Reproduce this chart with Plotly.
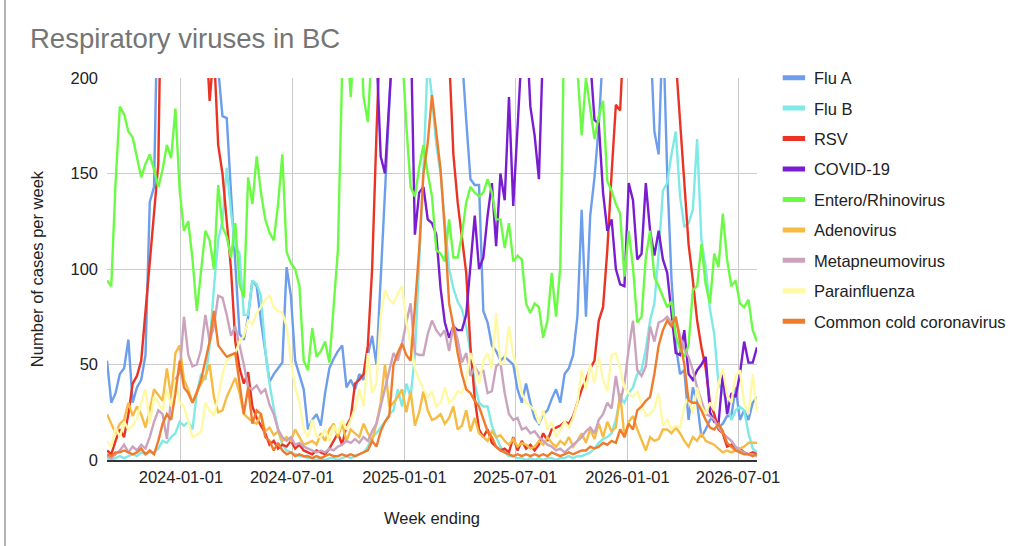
import pandas as pd
import plotly.graph_objects as go

# weekly counts, one value per week ending (Saturday)
weeks = pd.date_range("2023-09-02", periods=153, freq="7D")

flu_a = [52, 30, 35, 45, 48, 63, 30, 38, 42, 55,
         135, 143, 260, 320, 380, 430, 470, 490, 470, 430,
         390, 340, 300, 270, 245, 225, 205, 180, 179, 140,
         100, 66, 63, 75, 94, 91, 73, 56, 41, 45,
         48, 51, 101, 86, 52, 45, 37, 16, 21, 24,
         18, 35, 48, 53, 57, 60, 38, 42, 37, 45,
         42, 55, 65, 50, 92, 140, 185, 240, 300, 360,
         420, 460, 480, 470, 430, 390, 350, 320, 300, 280,
         260, 245, 230, 212, 178, 147, 144, 144, 78, 72,
         60, 57, 52, 54, 52, 50, 37, 30, 40, 30,
         22, 19, 24, 26, 32, 37, 30, 45, 48, 55,
         75, 131, 75, 128, 148, 175, 215, 290, 340, 380,
         400, 390, 360, 320, 290, 260, 240, 225, 172, 160,
         230, 150, 95, 60, 45, 47, 21, 38, 30, 12,
         16, 21, 23, 17, 19, 23, 23, 38, 21, 26,
         21, 30, 33]

flu_b = [1, 0, 1, 2, 1, 2, 3, 2, 4, 3,
         4, 4, 6, 10, 9, 12, 14, 20, 18, 20,
         16, 35, 45, 42, 60, 90, 115, 125, 153, 130,
         112, 108, 76, 76, 94, 92, 86, 58, 40, 27,
         16, 8, 5, 4, 3, 2, 2, 1, 1, 0,
         1, 0, 1, 1, 0, 1, 2, 1, 2, 3,
         4, 7, 12, 14, 17, 20, 24, 26, 37, 28,
         40, 33, 55, 100, 152, 210, 190, 165, 150, 125,
         100, 90, 83, 79, 70, 56, 40, 30, 28, 28,
         18, 12, 7, 4, 2, 2, 1, 1, 0, 1,
         0, 1, 0, 1, 1, 0, 1, 1, 2, 1,
         2, 2, 3, 4, 6, 9, 11, 12, 14, 21,
         33, 30, 35, 38, 45, 47, 58, 73, 82, 108,
         141, 145, 160, 172, 138, 122, 124, 131, 168, 115,
         101, 79, 66, 40, 36, 30, 21, 26, 28, 26,
         14, 6, 4]

rsv = [5, 3, 10, 16, 12, 24, 40, 44, 52, 78,
       105, 130, 155, 300, 420, 520, 600, 640, 620, 560,
       480, 400, 300, 230, 188, 215, 165, 150, 125, 100,
       62, 48, 40, 46, 28, 22, 18, 14, 8, 10,
       6, 8, 7, 10, 6, 8, 5, 4, 3, 5,
       4, 3, 6, 10, 14, 8, 18, 22, 40, 42,
       45, 60, 100, 170, 250, 330, 400, 470, 520, 540,
       530, 490, 440, 390, 340, 300, 270, 250, 235, 222,
       212, 160, 135, 118, 98, 59, 32, 16, 12, 16,
       9, 7, 5, 6, 4, 12, 5, 10, 6, 8,
       5, 8, 14, 10, 16, 17, 18, 20, 19, 23,
       30, 37, 42, 48, 52, 73, 80, 110, 150, 186,
       183, 240, 300, 360, 420, 460, 470, 450, 410, 360,
       310, 270, 240, 210, 178, 150, 113, 94, 73, 59,
       48, 30, 24, 16, 14, 7, 8, 5, 6, 4,
       3, 4, 3]

covid = [290, 320, 345, 360, 385, 410, 440, 455, 470, 480,
         470, 455, 440, 425, 410, 390, 380, 360, 345, 330,
         315, 300, 290, 280, 275, 268, 260, 255, 250, 245,
         240, 238, 235, 232, 228, 226, 224, 222, 225, 228,
         230, 235, 240, 245, 250, 255, 258, 262, 265, 268,
         272, 276, 280, 285, 290, 295, 300, 296, 290, 280,
         265, 250, 235, 215, 159, 150, 195, 240, 290, 300,
         270, 230, 118, 140, 143, 126, 124, 118, 90, 72,
         64, 70, 68, 68, 76, 100, 128, 100, 106, 128,
         145, 112, 150, 136, 190, 133, 176, 215, 230, 185,
         170, 147, 220, 250, 280, 300, 320, 330, 320, 300,
         280, 260, 240, 210, 178, 176, 140, 120, 126, 100,
         92, 91, 145, 136, 105, 108, 145, 120, 107, 120,
         105, 98, 78, 56, 55, 68, 45, 42, 47, 50,
         54, 25, 20, 19, 45, 24, 35, 33, 45, 62,
         51, 51, 59]

entero = [94, 91, 145, 185, 181, 172, 169, 158, 148, 155,
          160, 152, 143, 152, 165, 158, 184, 141, 120, 125,
          105, 78, 98, 120, 115, 100, 144, 122, 117, 106,
          124, 92, 85, 148, 134, 159, 140, 126, 119, 115,
          134, 160, 109, 103, 100, 91, 52, 47, 69, 54,
          57, 62, 51, 82, 110, 205, 225, 190, 230, 240,
          190, 177, 230, 260, 280, 290, 270, 250, 230, 215,
          175, 143, 138, 153, 165, 150, 138, 110, 108, 104,
          126, 106, 106, 118, 135, 143, 140, 138, 140, 147,
          140, 126, 126, 111, 124, 104, 107, 105, 82, 77,
          82, 80, 64, 73, 98, 75, 101, 240, 250, 220,
          205, 170, 200, 185, 168, 180, 188, 146, 141, 134,
          129, 96, 120, 101, 72, 75, 106, 120, 96, 91,
          85, 80, 83, 65, 58, 54, 60, 89, 91, 113,
          92, 82, 108, 101, 129, 105, 91, 94, 82, 80,
          84, 68, 62]

adeno = [24, 19, 14, 19, 21, 30, 23, 28, 24, 17,
         26, 37, 34, 31, 48, 33, 56, 60, 42, 37,
         30, 36, 40, 44, 50, 33, 25, 26, 33, 38,
         43, 35, 24, 22, 20, 19, 24, 15, 17, 13,
         15, 10, 12, 10, 16, 12, 8, 9, 10, 8,
         14, 10, 16, 19, 12, 19, 10, 16, 14, 12,
         19, 14, 10, 19, 30, 50, 28, 30, 33, 37,
         25, 36, 18, 25, 36, 26, 21, 22, 24, 19,
         22, 28, 16, 18, 26, 15, 22, 14, 12, 10,
         15, 12, 13, 10, 8, 11, 7, 9, 8, 6,
         7, 10, 8, 12, 9, 7, 10, 8, 12, 7,
         10, 14, 9, 16, 11, 19, 12, 20, 15, 17,
         35, 12, 20, 23, 16, 10, 5, 12, 10, 11,
         16, 16, 14, 17, 14, 10, 7, 12, 10, 14,
         10, 9, 8, 6, 4, 5, 4, 5, 6, 7,
         9, 9, 9]

metapneumo = [2, 1, 3, 5, 8, 4, 7, 5, 8, 6,
              12, 20, 26, 24, 11, 32, 42, 46, 75, 55,
              49, 50, 58, 76, 62, 70, 86, 85, 76, 65,
              70, 60, 50, 38, 37, 39, 35, 37, 29, 24,
              16, 12, 10, 12, 8, 9, 7, 6, 5, 4,
              5, 4, 6, 5, 7, 8, 10, 9, 11, 9,
              12, 10, 15, 19, 28, 37, 47, 56, 52, 61,
              72, 82, 56, 55, 55, 66, 73, 68, 65, 68,
              57, 71, 63, 51, 56, 44, 49, 45, 47, 35,
              36, 49, 51, 35, 24, 21, 22, 16, 17, 14,
              15, 12, 10, 8, 7, 5, 6, 4, 6, 8,
              10, 12, 15, 17, 14, 21, 24, 30, 27, 44,
              30, 40, 58, 73, 47, 44, 49, 70, 62, 72,
              73, 75, 72, 74, 65, 58, 54, 47, 38, 31,
              24, 23, 21, 17, 14, 12, 10, 7, 5, 4,
              3, 3, 2]

parainfluenza = [10, 7, 17, 12, 20, 16, 18, 22, 30, 37,
                 19, 33, 30, 26, 37, 28, 42, 30, 28, 20,
                 12, 13, 15, 30, 26, 23, 33, 45, 52, 54,
                 56, 62, 65, 73, 71, 77, 80, 84, 86, 80,
                 78, 77, 70, 52, 38, 30, 16, 12, 21, 12,
                 12, 16, 10, 18, 14, 21, 16, 21, 27, 37,
                 28, 56, 35, 40, 75, 89, 84, 82, 87, 91,
                 72, 61, 48, 42, 37, 33, 36, 28, 30, 38,
                 30, 32, 36, 35, 42, 56, 49, 40, 52, 56,
                 48, 77, 50, 52, 70, 55, 47, 35, 30, 28,
                 26, 19, 26, 16, 20, 12, 16, 20, 17, 22,
                 30, 47, 37, 50, 40, 54, 42, 36, 55, 56,
                 48, 38, 35, 33, 36, 30, 23, 24, 27, 35,
                 18, 21, 16, 18, 17, 28, 33, 24, 38, 28,
                 24, 30, 26, 40, 48, 34, 30, 44, 47, 30,
                 24, 45, 25]

common_cold = [3, 2, 4, 4, 5, 4, 3, 4, 6, 3,
               5, 3, 10, 19, 24, 21, 35, 52, 38, 35,
               30, 35, 42, 52, 62, 78, 60, 57, 54, 55,
               56, 40, 24, 38, 19, 26, 24, 12, 10, 5,
               9, 5, 3, 4, 2, 3, 2, 2, 1, 2,
               1, 2, 3, 2, 2, 3, 2, 3, 2, 3,
               4, 5, 10, 7, 15, 20, 23, 50, 56, 61,
               55, 52, 80, 110, 150, 166, 191, 172, 152, 120,
               82, 70, 56, 45, 37, 35, 31, 28, 22, 15,
               12, 7, 5, 4, 3, 2, 3, 2, 3, 2,
               3, 2, 3, 2, 4, 3, 2, 3, 4, 3,
               4, 5, 5, 7, 6, 7, 9, 8, 10, 9,
               16, 12, 19, 16, 26, 28, 31, 33, 45, 60,
               68, 73, 70, 75, 62, 50, 31, 30, 30, 26,
               21, 17, 16, 19, 15, 9, 7, 5, 4, 3,
               3, 2, 3]

series = [
    ("Flu A", flu_a, "#6d9eeb"),
    ("Flu B", flu_b, "#7fe9e6"),
    ("RSV", rsv, "#ea3323"),
    ("COVID-19", covid, "#7a1dd1"),
    ("Entero/Rhinovirus", entero, "#6cfb45"),
    ("Adenovirus", adeno, "#f6bb42"),
    ("Metapneumovirus", metapneumo, "#caa3bf"),
    ("Parainfluenza", parainfluenza, "#fff9a6"),
    ("Common cold coronavirus", common_cold, "#f07b2d"),
]

tick_dates = ["2024-01-01", "2024-07-01", "2025-01-01", "2025-07-01", "2026-01-01", "2026-07-01"]
font = "Arial, Liberation Sans, sans-serif"

fig = go.Figure()
for name, vals, col in series:
    assert len(vals) == len(weeks), name
    fig.add_trace(go.Scatter(x=weeks, y=vals, mode="lines", name=name,
                             line=dict(color=col, width=2.4),
                             legendgroup=name, showlegend=False))
    # legend entry drawn as a short thick bar like the original
    fig.add_trace(go.Scatter(x=[None], y=[None], mode="markers", name=name,
                             legendgroup=name, showlegend=True,
                             marker=dict(symbol="line-ew", size=16, color=col,
                                         line=dict(color=col, width=5))))

fig.update_layout(
    width=1024, height=546,
    margin=dict(l=107, r=267, t=78, b=86),
    paper_bgcolor="white", plot_bgcolor="white",
    font=dict(family=font, size=16.5, color="#222222"),
    title=dict(text="Respiratory viruses in BC", x=30 / 1024, xanchor="left",
               xref="container", y=1 - 38 / 546, yanchor="middle", yref="container",
               font=dict(size=27.5, color="#757575")),
    legend=dict(x=1.026, xanchor="left", y=1.046, yanchor="top",
                font=dict(size=16.5, color="#222222"), tracegroupgap=6,
                bgcolor="rgba(0,0,0,0)", maxheight=520),
    showlegend=True,
    shapes=[dict(type="line", xref="paper", yref="paper",
                 x0=(5 - 107) / 650, x1=(5 - 107) / 650, y0=-86 / 382, y1=1 + 78 / 382,
                 line=dict(color="#9a9a9a", width=1.5))],
)
fig.update_xaxes(type="date", range=[weeks[0], weeks[-1]],
                 tickvals=tick_dates, ticktext=tick_dates,
                 showgrid=True, gridcolor="#cccccc", gridwidth=1,
                 showline=True, linecolor="#333333", linewidth=1.5,
                 ticks="", ticklabelstandoff=1,
                 title=dict(text="Week ending", standoff=28,
                            font=dict(size=16.5, color="#222222")))
fig.update_yaxes(range=[0, 200], tickvals=[0, 50, 100, 150, 200],
                 showgrid=True, gridcolor="#cccccc", gridwidth=1,
                 zeroline=False, showline=False, ticks="", ticklabelstandoff=8,
                 title=dict(text="Number of cases per week", standoff=22,
                            font=dict(size=16.5, color="#222222")))

# the page's default 8px body margin would shift the chart; remove it
fig.write_html("out.html", config={"displayModeBar": False},
               post_script="document.body.style.margin='0';document.body.style.overflow='hidden';")
